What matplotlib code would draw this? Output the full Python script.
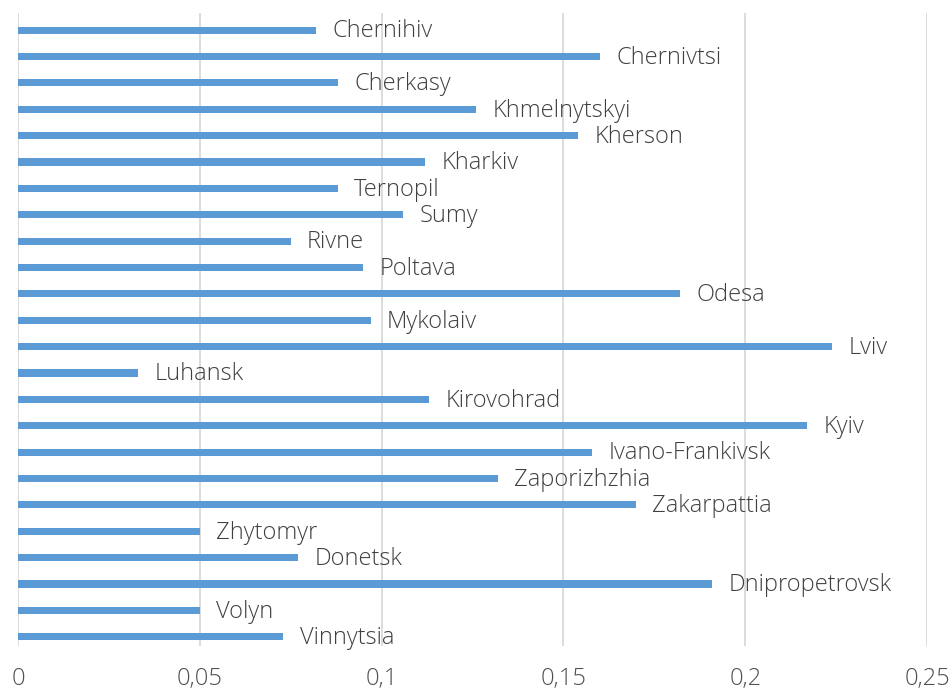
import numpy as np
import matplotlib.pyplot as plt
from matplotlib.ticker import FuncFormatter

# bottom to top
regions = ["Vinnytsia", "Volyn", "Dnipropetrovsk", "Donetsk", "Zhytomyr",
           "Zakarpattia", "Zaporizhzhia", "Ivano-Frankivsk", "Kyiv", "Kirovohrad",
           "Luhansk", "Lviv", "Mykolaiv", "Odesa", "Poltava", "Rivne", "Sumy",
           "Ternopil", "Kharkiv", "Kherson", "Khmelnytskyi", "Cherkasy",
           "Chernivtsi", "Chernihiv"]
values = [0.073, 0.050, 0.191, 0.077, 0.050,
          0.170, 0.132, 0.158, 0.217, 0.113,
          0.033, 0.224, 0.097, 0.182, 0.095, 0.075, 0.106,
          0.088, 0.112, 0.154, 0.126, 0.088,
          0.160, 0.082]
xticks = [0, 0.05, 0.1, 0.15, 0.2, 0.25]

plt.rcParams['font.family'] = ['Open Sans', 'DejaVu Sans']

fig = plt.figure(figsize=(9.52, 6.93), dpi=100)
ax = fig.add_axes([18/952, 47/693, 909/952, 633/693])

y = np.arange(len(regions))
ax.barh(y, values, height=0.27, color='#5B9BD5', zorder=3)
for yi, v, name in zip(y, values, regions):
    ax.text(v + 0.0045, yi - 0.05, name, va='center', ha='left',
            fontsize=17, color='#404040', fontweight='light', zorder=4)

ax.set_xlim(0, 0.25)
ax.set_ylim(-0.35, len(regions) - 0.35)
ax.set_xticks(xticks)
ax.xaxis.set_major_formatter(FuncFormatter(lambda v, p: ('%g' % round(v, 2)).replace('.', ',')))
ax.set_yticks([])
ax.tick_params(axis='x', length=0, pad=15, labelsize=17, labelcolor='#505050')
ax.grid(axis='x', color='#D9D9D9', lw=1.3, zorder=0)
for s in ax.spines.values():
    s.set_visible(False)
for lab in ax.get_xticklabels():
    lab.set_fontweight('light')

fig.savefig('out.png', dpi=100)
